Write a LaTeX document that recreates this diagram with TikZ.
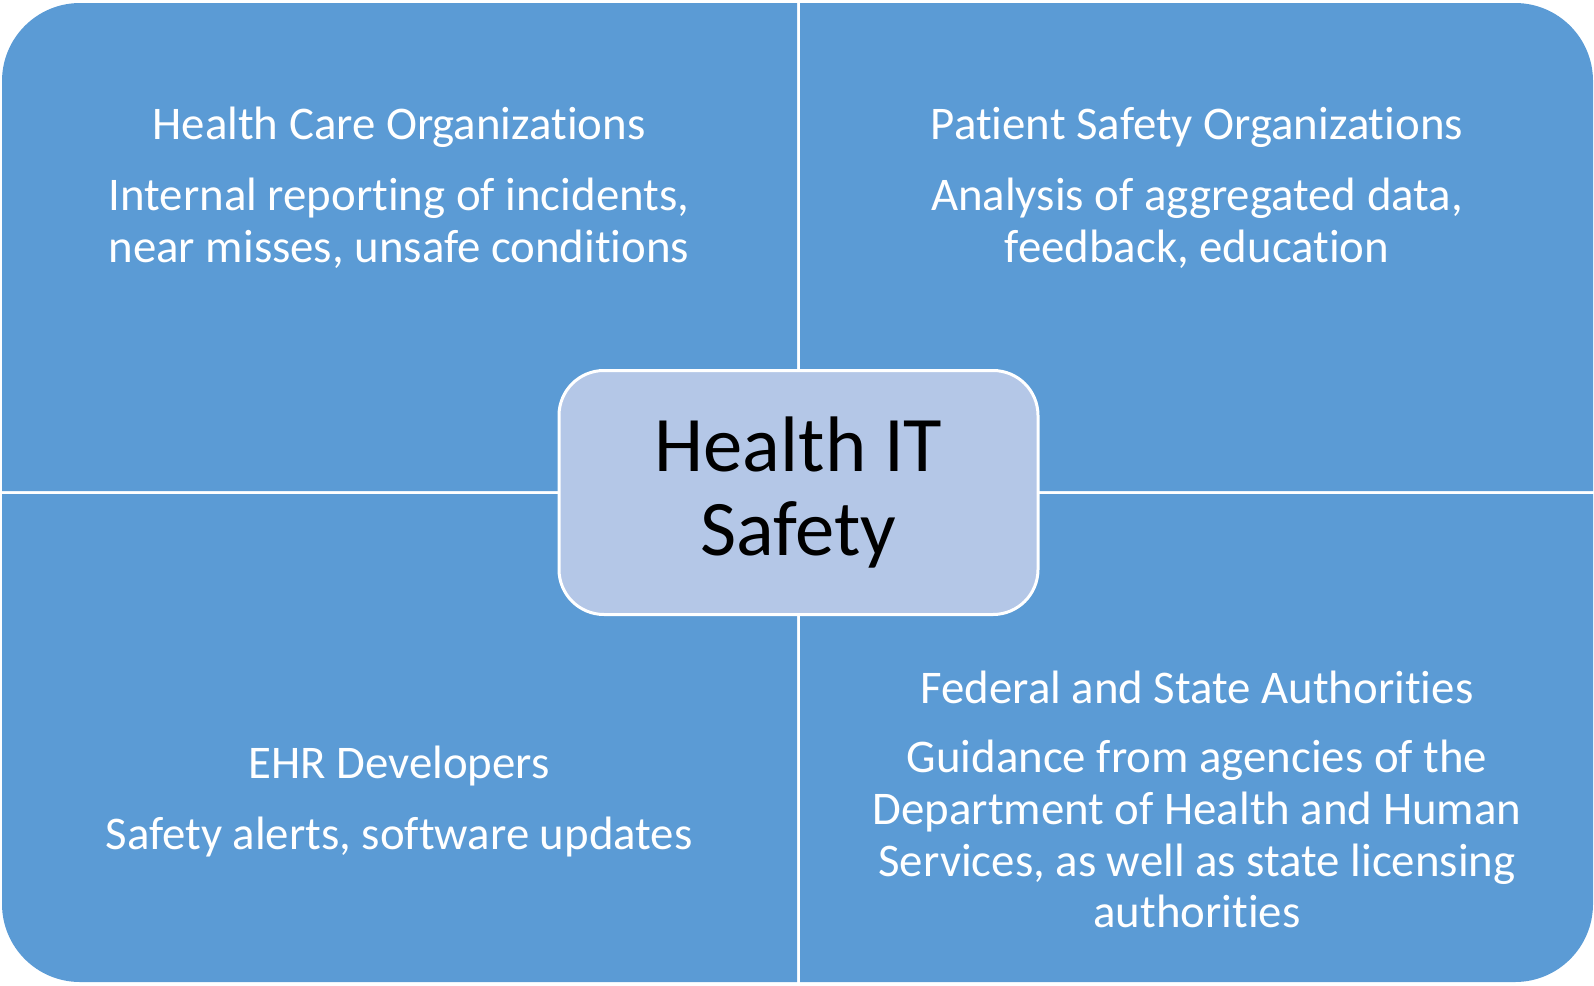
\documentclass[tikz,border=0pt]{standalone}
\usepackage{fontspec}
\setmainfont{Carlito}[Ligatures={NoCommon}]
\definecolor{quadblue}{HTML}{5B9BD5}
\definecolor{hubblue}{HTML}{B4C7E7}
\begin{document}
\begin{tikzpicture}[x=1bp,y=-1bp,
  quadrant/.style={fill=quadblue},
  heading/.style={text=white,font=\fontsize{47}{52}\selectfont,inner sep=0pt},
  detail/.style={text=white,font=\fontsize{47}{52}\selectfont,align=center,inner sep=0pt},
  hubbox/.style={fill=hubblue,draw=white,line width=3bp,rounded corners=45bp,
    minimum width=479bp,minimum height=244bp,inner sep=0pt,align=center,
    text=black,font=\fontsize{79}{84}\selectfont}]
\useasboundingbox (0,0) rectangle (1594,985);

% four quadrants, each rounded only at its outer corner
\fill[quadrant] (797,491) -- (2,491) [rounded corners=78bp] -- (2,3) [sharp corners] -- (797,3) -- cycle;
\fill[quadrant] (800,491) -- (1593,491) [rounded corners=78bp] -- (1593,3) [sharp corners] -- (800,3) -- cycle;
\fill[quadrant] (797,494) -- (2,494) [rounded corners=78bp] -- (2,982) [sharp corners] -- (797,982) -- cycle;
\fill[quadrant] (800,494) -- (1593,494) [rounded corners=78bp] -- (1593,982) [sharp corners] -- (800,982) -- cycle;

% quadrant texts
\node[heading] (hcoT) at (399,127) {Health Care Organizations};
\node[detail]  (hcoD) at (399,223) {Internal reporting of incidents,\\near misses, unsafe conditions};

\node[heading] (psoT) at (1197,127) {Patient Safety Organizations};
\node[detail]  (psoD) at (1197,223) {Analysis of aggregated data,\\feedback, education};

\node[heading] (ehrT) at (399,766) {EHR Developers};
\node[detail]  (ehrD) at (399,837) {Safety alerts, software updates};

\node[heading] (fsaT) at (1197,687) {Federal and State Authorities};
\node[detail]  (fsaD) at (1197,834) {Guidance from agencies of the\\Department of Health and Human\\Services, as well as state licensing\\authorities};

% central hub
\node[hubbox] (hub) at (798.5,492.5) {Health IT\\Safety};
\end{tikzpicture}
\end{document}
